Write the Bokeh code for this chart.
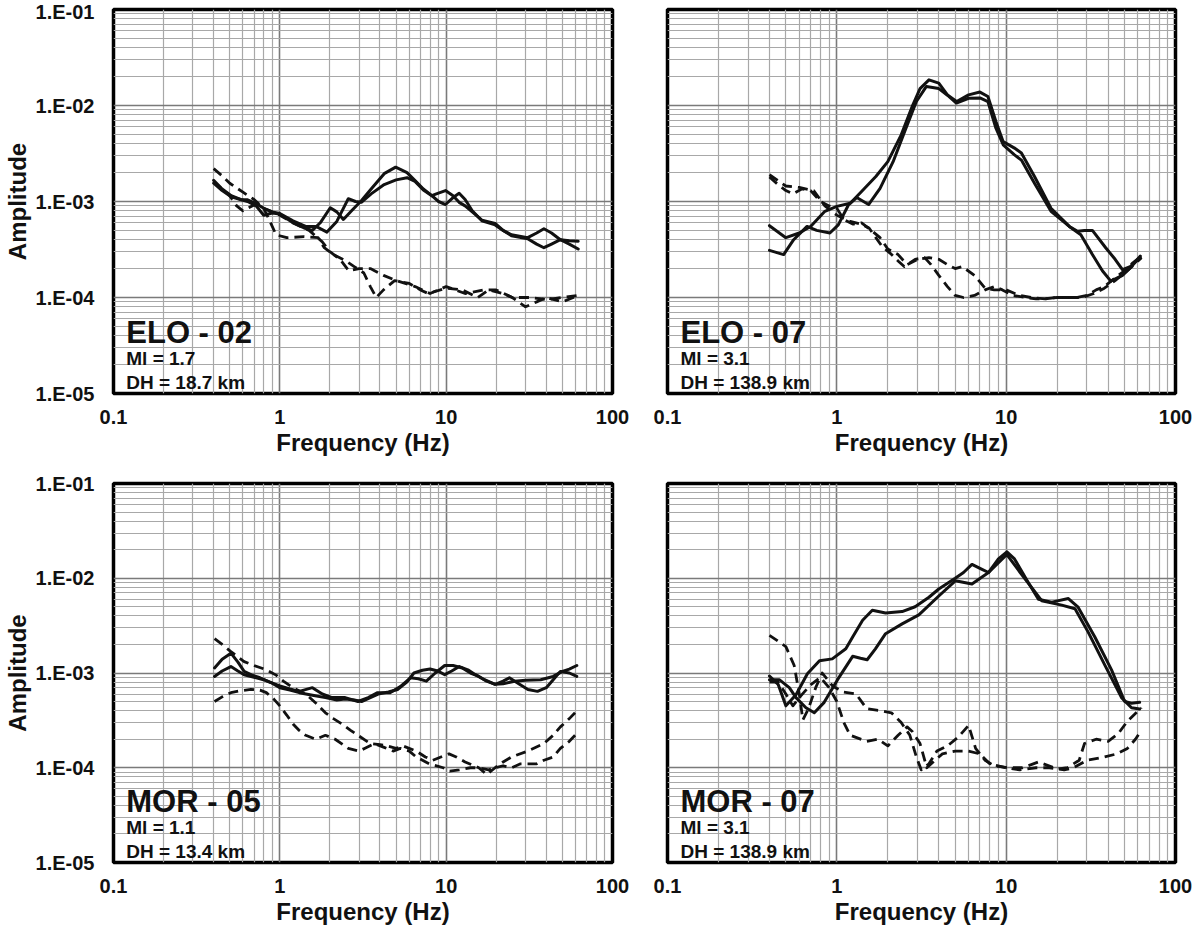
import math
from bokeh.plotting import figure
from bokeh.models import FixedTicker, CustomJSTickFormatter, Label, Range1d
from bokeh.layouts import row, column
from bokeh.embed import file_html
from bokeh.resources import INLINE

# ---------------- data ----------------
# ELO - 02
elo02_s1_f = [0.40, 0.45, 0.51, 0.58, 0.64, 0.72, 0.80, 0.90, 1.0, 1.2, 1.4, 1.57, 1.75, 2.01, 2.2, 2.41, 2.7, 3.09, 3.54, 4.24, 4.97, 5.82, 6.5, 7.29, 8.2, 9.0, 9.91, 11.0, 11.97, 13.0, 14.35, 16.4, 19.7, 22, 24.7, 30.9, 35, 38.7, 43, 48.6, 55, 62.2]
elo02_s1_a = [1.66e-3, 1.35e-3, 1.15e-3, 1.05e-3, 1.0e-3, 0.9e-3, 0.72e-3, 0.76e-3, 0.74e-3, 0.6e-3, 0.53e-3, 0.5e-3, 0.6e-3, 0.86e-3, 0.78e-3, 0.65e-3, 0.8e-3, 1.02e-3, 1.35e-3, 1.95e-3, 2.28e-3, 2.0e-3, 1.65e-3, 1.35e-3, 1.15e-3, 1.0e-3, 0.93e-3, 1.1e-3, 1.22e-3, 1.05e-3, 0.8e-3, 0.63e-3, 0.57e-3, 0.5e-3, 0.44e-3, 0.41e-3, 0.36e-3, 0.33e-3, 0.36e-3, 0.4e-3, 0.39e-3, 0.386e-3]
elo02_s2_f = [0.40, 0.45, 0.51, 0.58, 0.64, 0.72, 0.80, 0.90, 1.0, 1.2, 1.43, 1.65, 1.92, 2.2, 2.58, 2.85, 3.09, 3.54, 4.24, 5.0, 5.82, 6.5, 7.29, 8.2, 8.73, 9.91, 11.0, 11.97, 13.0, 14.35, 16.4, 19.7, 22, 24.7, 30.9, 35, 38.7, 43, 48.6, 55, 62.2]
elo02_s2_a = [1.55e-3, 1.3e-3, 1.12e-3, 1.05e-3, 1.04e-3, 0.95e-3, 0.85e-3, 0.78e-3, 0.75e-3, 0.63e-3, 0.55e-3, 0.55e-3, 0.48e-3, 0.62e-3, 1.07e-3, 1.0e-3, 0.98e-3, 1.2e-3, 1.5e-3, 1.68e-3, 1.77e-3, 1.62e-3, 1.32e-3, 1.15e-3, 1.2e-3, 1.3e-3, 1.15e-3, 0.98e-3, 0.9e-3, 0.78e-3, 0.64e-3, 0.59e-3, 0.5e-3, 0.45e-3, 0.42e-3, 0.47e-3, 0.52e-3, 0.47e-3, 0.4e-3, 0.36e-3, 0.32e-3]
elo02_d1_f = [0.40, 0.45, 0.5, 0.6, 0.7, 0.8, 0.88, 0.95, 1.1, 1.4, 1.7, 1.85, 2.1, 2.5, 2.8, 3.2, 3.5, 3.8, 4.2, 4.9, 6.0, 7.0, 7.8, 10, 12.5, 15.5, 18, 22, 25, 30, 35, 40, 50, 62]
elo02_d1_a = [2.2e-3, 1.85e-3, 1.55e-3, 1.25e-3, 1.05e-3, 0.85e-3, 0.6e-3, 0.45e-3, 0.42e-3, 0.43e-3, 0.42e-3, 0.33e-3, 0.28e-3, 0.24e-3, 0.21e-3, 0.18e-3, 0.13e-3, 0.1e-3, 0.12e-3, 0.15e-3, 0.14e-3, 0.12e-3, 0.11e-3, 0.125e-3, 0.12e-3, 0.1e-3, 0.12e-3, 0.11e-3, 0.1e-3, 0.08e-3, 0.09e-3, 0.1e-3, 0.09e-3, 0.105e-3]
elo02_d2_f = [0.40, 0.45, 0.5, 0.55, 0.6, 0.7, 0.8, 0.9, 1.0, 1.2, 1.5, 1.8, 2.0, 2.3, 2.6, 3.0, 3.5, 4.2, 5.0, 6.5, 8.0, 10, 13, 17, 20, 25, 32, 40, 50, 62]
elo02_d2_a = [1.6e-3, 1.35e-3, 1.15e-3, 0.9e-3, 0.8e-3, 0.92e-3, 0.85e-3, 0.78e-3, 0.72e-3, 0.6e-3, 0.5e-3, 0.38e-3, 0.3e-3, 0.25e-3, 0.19e-3, 0.2e-3, 0.2e-3, 0.17e-3, 0.15e-3, 0.13e-3, 0.11e-3, 0.13e-3, 0.11e-3, 0.12e-3, 0.12e-3, 0.1e-3, 0.1e-3, 0.095e-3, 0.1e-3, 0.105e-3]

# ELO - 07
elo07_s1_f = [0.40, 0.5, 0.6, 0.7, 0.85, 1.0, 1.2, 1.4, 1.7, 2.0, 2.4, 2.8, 3.1, 3.5, 4.0, 4.5, 5.1, 6.0, 7.0, 7.8, 8.7, 9.6, 11.2, 12.3, 14.7, 18.4, 23.6, 26.4, 29, 32.3, 38.7, 44, 48.6, 54, 62]
elo07_s1_a = [0.56e-3, 0.42e-3, 0.47e-3, 0.55e-3, 0.79e-3, 0.89e-3, 0.96e-3, 1.27e-3, 1.82e-3, 2.6e-3, 4.95e-3, 1.0e-2, 1.5e-2, 1.85e-2, 1.71e-2, 1.29e-2, 1.1e-2, 1.29e-2, 1.38e-2, 1.24e-2, 6.8e-3, 4.2e-3, 3.6e-3, 3.2e-3, 1.82e-3, 0.85e-3, 0.55e-3, 0.49e-3, 0.5e-3, 0.5e-3, 0.33e-3, 0.25e-3, 0.195e-3, 0.21e-3, 0.26e-3]
elo07_s2_f = [0.40, 0.485, 0.556, 0.667, 0.76, 0.91, 1.02, 1.17, 1.31, 1.54, 1.8, 2.15, 2.52, 2.95, 3.38, 4.0, 4.5, 5.08, 6.0, 7.0, 7.8, 8.7, 9.6, 11.2, 12.3, 14.7, 18.4, 23.6, 27.6, 32.3, 37, 41.5, 48.6, 55, 62]
elo07_s2_a = [0.31e-3, 0.28e-3, 0.4e-3, 0.55e-3, 0.5e-3, 0.47e-3, 0.57e-3, 0.92e-3, 1.1e-3, 0.93e-3, 1.37e-3, 2.6e-3, 5.4e-3, 1.1e-2, 1.58e-2, 1.5e-2, 1.28e-2, 1.06e-2, 1.19e-2, 1.2e-2, 1.1e-2, 5.8e-3, 3.9e-3, 3.06e-3, 2.7e-3, 1.55e-3, 0.79e-3, 0.55e-3, 0.45e-3, 0.28e-3, 0.19e-3, 0.148e-3, 0.17e-3, 0.21e-3, 0.27e-3]
elo07_d1_f = [0.40, 0.5, 0.6, 0.73, 0.85, 1.0, 1.2, 1.4, 1.55, 1.85, 2.06, 2.3, 2.5, 2.9, 3.3, 3.6, 4.0, 4.5, 5.0, 5.6, 6.5, 7.5, 8.5, 9.5, 11, 13, 15, 17, 20, 23, 26, 30, 34, 38, 44, 50, 56, 63]
elo07_d1_a = [1.9e-3, 1.45e-3, 1.4e-3, 1.3e-3, 0.9e-3, 0.72e-3, 0.62e-3, 0.58e-3, 0.53e-3, 0.34e-3, 0.29e-3, 0.24e-3, 0.21e-3, 0.25e-3, 0.26e-3, 0.22e-3, 0.17e-3, 0.13e-3, 0.105e-3, 0.1e-3, 0.105e-3, 0.12e-3, 0.13e-3, 0.12e-3, 0.105e-3, 0.1e-3, 0.097e-3, 0.097e-3, 0.1e-3, 0.1e-3, 0.1e-3, 0.105e-3, 0.12e-3, 0.13e-3, 0.16e-3, 0.19e-3, 0.23e-3, 0.27e-3]
elo07_d2_f = [0.40, 0.45, 0.5, 0.55, 0.62, 0.7, 0.8, 0.9, 1.0, 1.1, 1.25, 1.4, 1.6, 1.8, 2.0, 2.3, 2.6, 3.0, 3.5, 4.0, 4.5, 5.0, 5.5, 6.5, 7.5, 8.5, 10, 12, 14, 17, 20, 24, 28, 33, 38, 44, 50, 57, 63]
elo07_d2_a = [1.8e-3, 1.5e-3, 1.3e-3, 1.2e-3, 1.35e-3, 1.3e-3, 1.0e-3, 0.9e-3, 0.85e-3, 0.65e-3, 0.58e-3, 0.6e-3, 0.5e-3, 0.42e-3, 0.32e-3, 0.28e-3, 0.22e-3, 0.25e-3, 0.26e-3, 0.25e-3, 0.22e-3, 0.2e-3, 0.21e-3, 0.17e-3, 0.125e-3, 0.12e-3, 0.12e-3, 0.105e-3, 0.1e-3, 0.097e-3, 0.1e-3, 0.1e-3, 0.1e-3, 0.11e-3, 0.125e-3, 0.15e-3, 0.18e-3, 0.22e-3, 0.26e-3]

# MOR - 05
mor05_s1_f = [0.405, 0.45, 0.508, 0.56, 0.61, 0.68, 0.76, 0.87, 1.0, 1.15, 1.31, 1.57, 1.8, 2.06, 2.47, 2.95, 3.4, 3.87, 4.6, 5.3, 6.1, 6.8, 7.6, 8.6, 9.8, 11, 12.5, 14, 15.7, 17.5, 19.7, 22, 24, 27, 31, 35.4, 40, 44, 48.6, 55, 61]
mor05_s1_a = [1.13e-3, 1.4e-3, 1.62e-3, 1.3e-3, 1.04e-3, 0.95e-3, 0.89e-3, 0.8e-3, 0.73e-3, 0.68e-3, 0.64e-3, 0.7e-3, 0.6e-3, 0.55e-3, 0.55e-3, 0.5e-3, 0.55e-3, 0.62e-3, 0.62e-3, 0.72e-3, 0.89e-3, 0.87e-3, 0.82e-3, 1.0e-3, 1.2e-3, 1.2e-3, 1.13e-3, 1.0e-3, 0.92e-3, 0.82e-3, 0.76e-3, 0.82e-3, 0.89e-3, 0.78e-3, 0.67e-3, 0.64e-3, 0.7e-3, 0.85e-3, 1.04e-3, 1.0e-3, 0.92e-3]
mor05_s2_f = [0.405, 0.45, 0.508, 0.56, 0.61, 0.7, 0.8, 0.9, 1.0, 1.15, 1.31, 1.6, 1.88, 2.2, 2.47, 2.8, 3.1, 3.5, 3.9, 4.5, 5.1, 5.8, 6.4, 7.2, 8.0, 8.9, 9.8, 10.8, 12, 13.5, 15, 17, 19.7, 22, 25.8, 30, 37, 44, 50, 55, 61]
mor05_s2_a = [0.92e-3, 1.05e-3, 1.17e-3, 1.05e-3, 0.96e-3, 0.9e-3, 0.85e-3, 0.78e-3, 0.7e-3, 0.66e-3, 0.62e-3, 0.58e-3, 0.55e-3, 0.52e-3, 0.53e-3, 0.52e-3, 0.5e-3, 0.55e-3, 0.6e-3, 0.63e-3, 0.67e-3, 0.8e-3, 1.0e-3, 1.07e-3, 1.1e-3, 1.05e-3, 0.96e-3, 1.05e-3, 1.17e-3, 1.08e-3, 0.96e-3, 0.85e-3, 0.76e-3, 0.77e-3, 0.82e-3, 0.84e-3, 0.85e-3, 0.92e-3, 1.04e-3, 1.1e-3, 1.2e-3]
mor05_d1_f = [0.405, 0.45, 0.508, 0.61, 0.7, 0.83, 0.95, 1.05, 1.2, 1.43, 1.65, 1.88, 2.1, 2.36, 2.65, 2.95, 3.5, 4.0, 4.4, 5.0, 5.5, 6.6, 7.5, 8.3, 9.3, 10.4, 11.5, 13, 15.7, 17.5, 19.7, 22, 24.7, 31, 38.7, 44, 48.6, 55, 62]
mor05_d1_a = [2.3e-3, 2.0e-3, 1.68e-3, 1.32e-3, 1.2e-3, 1.08e-3, 0.95e-3, 0.82e-3, 0.7e-3, 0.6e-3, 0.48e-3, 0.38e-3, 0.33e-3, 0.29e-3, 0.25e-3, 0.22e-3, 0.18e-3, 0.175e-3, 0.17e-3, 0.16e-3, 0.17e-3, 0.15e-3, 0.13e-3, 0.12e-3, 0.13e-3, 0.14e-3, 0.13e-3, 0.115e-3, 0.1e-3, 0.085e-3, 0.1e-3, 0.115e-3, 0.13e-3, 0.15e-3, 0.18e-3, 0.22e-3, 0.27e-3, 0.33e-3, 0.41e-3]
mor05_d2_f = [0.405, 0.45, 0.508, 0.58, 0.67, 0.76, 0.83, 0.92, 1.0, 1.1, 1.2, 1.3, 1.43, 1.64, 1.88, 2.15, 2.58, 3.0, 3.23, 3.7, 4.2, 4.8, 5.3, 6.0, 6.6, 7.9, 9.6, 10.5, 12, 14, 15.7, 18, 19.7, 22, 24.7, 28, 31, 35, 38.7, 44, 48.6, 55, 61]
mor05_d2_a = [0.5e-3, 0.56e-3, 0.62e-3, 0.65e-3, 0.67e-3, 0.66e-3, 0.62e-3, 0.53e-3, 0.45e-3, 0.36e-3, 0.29e-3, 0.25e-3, 0.22e-3, 0.2e-3, 0.22e-3, 0.2e-3, 0.16e-3, 0.15e-3, 0.16e-3, 0.18e-3, 0.165e-3, 0.15e-3, 0.16e-3, 0.15e-3, 0.13e-3, 0.11e-3, 0.1e-3, 0.092e-3, 0.095e-3, 0.1e-3, 0.1e-3, 0.095e-3, 0.1e-3, 0.105e-3, 0.1e-3, 0.11e-3, 0.11e-3, 0.11e-3, 0.12e-3, 0.13e-3, 0.16e-3, 0.19e-3, 0.23e-3]

# MOR - 07
mor07_s1_f = [0.40, 0.45, 0.5, 0.574, 0.67, 0.79, 0.94, 1.13, 1.24, 1.42, 1.62, 1.94, 2.43, 2.9, 3.5, 4.0, 5.0, 5.6, 6.28, 7.2, 7.87, 9.0, 10.1, 11.2, 13.5, 15.5, 18.6, 23.3, 26.6, 33.4, 41.9, 50.1, 55, 61.4]
mor07_s1_a = [0.93e-3, 0.76e-3, 0.45e-3, 0.59e-3, 0.98e-3, 1.35e-3, 1.41e-3, 1.8e-3, 2.4e-3, 3.6e-3, 4.6e-3, 4.3e-3, 4.45e-3, 5.0e-3, 6.3e-3, 7.7e-3, 1.0e-2, 1.15e-2, 1.4e-2, 1.24e-2, 1.15e-2, 1.6e-2, 1.9e-2, 1.6e-2, 9.0e-3, 6.0e-3, 5.6e-3, 6.1e-3, 4.95e-3, 2.4e-3, 1.08e-3, 0.5e-3, 0.48e-3, 0.49e-3]
mor07_s2_f = [0.40, 0.457, 0.524, 0.574, 0.657, 0.736, 0.842, 1.01, 1.24, 1.38, 1.51, 1.69, 1.94, 2.43, 3.05, 4.0, 5.01, 6.28, 7.87, 10.1, 12.1, 16.2, 21.3, 25.5, 30.5, 38.2, 48, 55, 61.4]
mor07_s2_a = [0.85e-3, 0.85e-3, 0.7e-3, 0.55e-3, 0.43e-3, 0.38e-3, 0.49e-3, 0.85e-3, 1.5e-3, 1.43e-3, 1.38e-3, 1.8e-3, 2.6e-3, 3.3e-3, 4.1e-3, 6.5e-3, 9.4e-3, 8.7e-3, 1.15e-2, 1.78e-2, 1.15e-2, 5.8e-3, 5.2e-3, 4.76e-3, 2.7e-3, 1.22e-3, 0.55e-3, 0.43e-3, 0.417e-3]
mor07_d1_f = [0.40, 0.5, 0.56, 0.6, 0.63, 0.68, 0.75, 0.82, 0.95, 1.1, 1.3, 1.5, 1.8, 2.1, 2.4, 2.7, 2.95, 3.15, 3.5, 3.9, 4.5, 5.2, 6.0, 6.6, 7.5, 8.5, 10.3, 12.5, 15.5, 20, 23, 27, 29, 34, 40, 46, 52, 63]
mor07_d1_a = [2.5e-3, 1.9e-3, 1.2e-3, 0.6e-3, 0.32e-3, 0.42e-3, 0.7e-3, 1.0e-3, 0.72e-3, 0.63e-3, 0.6e-3, 0.42e-3, 0.4e-3, 0.38e-3, 0.3e-3, 0.22e-3, 0.13e-3, 0.095e-3, 0.11e-3, 0.15e-3, 0.17e-3, 0.21e-3, 0.28e-3, 0.16e-3, 0.12e-3, 0.105e-3, 0.1e-3, 0.1e-3, 0.115e-3, 0.097e-3, 0.1e-3, 0.12e-3, 0.18e-3, 0.2e-3, 0.19e-3, 0.23e-3, 0.31e-3, 0.43e-3]
mor07_d2_f = [0.40, 0.45, 0.5, 0.55, 0.6, 0.7, 0.8, 0.9, 1.0, 1.1, 1.2, 1.5, 1.75, 2.0, 2.3, 2.6, 2.8, 3.1, 3.4, 3.8, 4.2, 5.0, 6.0, 7.0, 8.0, 10, 12, 15, 18, 22, 25, 30, 38, 45, 52, 58, 63]
mor07_d2_a = [0.8e-3, 0.8e-3, 0.6e-3, 0.45e-3, 0.55e-3, 0.75e-3, 0.9e-3, 0.7e-3, 0.5e-3, 0.3e-3, 0.22e-3, 0.19e-3, 0.2e-3, 0.17e-3, 0.22e-3, 0.27e-3, 0.24e-3, 0.18e-3, 0.1e-3, 0.12e-3, 0.14e-3, 0.15e-3, 0.15e-3, 0.14e-3, 0.11e-3, 0.1e-3, 0.095e-3, 0.1e-3, 0.1e-3, 0.095e-3, 0.1e-3, 0.12e-3, 0.13e-3, 0.14e-3, 0.16e-3, 0.2e-3, 0.25e-3]

station_names = ["ELO - 02", "ELO - 07", "MOR - 05", "MOR - 07"]
ml_values = ["1.7", "3.1", "1.1", "3.1"]
dh_values = ["18.7", "138.9", "13.4", "138.9"]

x_major_ticks = [0.1, 1, 10, 100]
y_major_ticks = [1e-5, 1e-4, 1e-3, 1e-2, 1e-1]
x_axis_title = "Frequency (Hz)"
y_axis_title = "Amplitude"

# ---------------- styling ----------------
FONT = "Liberation Sans"
INK = "#111111"
FRAME_W = 508

x_minor = [m * 10 ** k for k in (-1, 0, 1) for m in range(2, 10)]
y_minor = [m * 10.0 ** k for k in (-5, -4, -3, -2) for m in range(2, 10)]

X_FMT = "return tick < 1 ? tick.toFixed(1) : tick.toFixed(0);"
Y_FMT = ("const e = Math.round(Math.log10(tick));"
         "return '1.E' + (e < 0 ? '-' : '+') + String(Math.abs(e)).padStart(2, '0');")


def make_panel(curves, name, ml, dh, left_col, top_row):
    bl = 104 if left_col else 35
    br = 20 if left_col else 17
    if top_row:
        bt, frame_h, bb = 9, 384, 70
    else:
        bt, frame_h, bb = 20, 379, 66
    p = figure(width=bl + FRAME_W + br, height=bt + frame_h + bb,
               x_axis_type="log", y_axis_type="log",
               x_range=Range1d(0.1, 100), y_range=Range1d(1e-5, 1e-1),
               output_backend="svg", toolbar_location=None,
               min_border_left=bl, min_border_right=br,
               min_border_top=bt, min_border_bottom=bb,
               background_fill_color="white", border_fill_color="white")

    xt = FixedTicker(ticks=x_major_ticks, minor_ticks=x_minor)
    yt = FixedTicker(ticks=y_major_ticks, minor_ticks=y_minor)
    p.xaxis.ticker = xt
    p.yaxis.ticker = yt
    p.xgrid.ticker = xt
    p.ygrid.ticker = yt

    for g in (p.xgrid, p.ygrid):
        g.grid_line_color = "#7a7a7a"
        g.grid_line_width = 1.6
        g.minor_grid_line_color = "#a8a8a8"
        g.minor_grid_line_width = 1.2

    p.outline_line_color = "black"
    p.outline_line_width = 3.5

    for ax in (p.xaxis, p.yaxis):
        ax.axis_line_color = None
        ax.major_tick_line_color = None
        ax.minor_tick_line_color = None
        ax.major_tick_out = 0
        ax.major_tick_in = 0
        ax.major_label_text_font = FONT
        ax.major_label_text_font_style = "bold"
        ax.major_label_text_font_size = "20px"
        ax.major_label_text_color = INK
        ax.axis_label_text_font = FONT
        ax.axis_label_text_font_style = "bold"
        ax.axis_label_text_font_size = "24px"
        ax.axis_label_text_color = INK

    p.xaxis.formatter = CustomJSTickFormatter(code=X_FMT)
    p.yaxis.formatter = CustomJSTickFormatter(code=Y_FMT)
    p.xaxis.axis_label = x_axis_title
    p.xaxis.major_label_standoff = 12
    p.xaxis.axis_label_standoff = 2

    if left_col:
        p.yaxis.axis_label = y_axis_title
        p.yaxis.major_label_standoff = 15
        p.yaxis.axis_label_standoff = 2
    else:
        p.yaxis.visible = False

    for f, a, dashed in curves:
        if dashed:
            p.line(f, a, line_color=INK, line_width=2.8, line_dash="10 6",
                   line_join="round")
        else:
            p.line(f, a, line_color=INK, line_width=3.0, line_join="round",
                   line_cap="round")

    ppd_x = FRAME_W / 3.0
    ppd_y = frame_h / 4.0

    def at(dx, dy):
        return 0.1 * 10 ** (dx / ppd_x), 1e-5 * 10 ** (dy / ppd_y)

    for text, dy, size in ((name, 61, "31px"),
                           ("Ml = " + ml, 35, "19px"),
                           ("DH = " + dh + " km", 11, "19px")):
        x, y = at(13, dy)
        p.add_layout(Label(x=x, y=y, text=text, text_font=FONT,
                           text_font_style="bold", text_font_size=size,
                           text_color=INK, text_align="left",
                           text_baseline="alphabetic"))
    return p


panel_curves = [
    [(elo02_d1_f, elo02_d1_a, True), (elo02_d2_f, elo02_d2_a, True),
     (elo02_s1_f, elo02_s1_a, False), (elo02_s2_f, elo02_s2_a, False)],
    [(elo07_d1_f, elo07_d1_a, True), (elo07_d2_f, elo07_d2_a, True),
     (elo07_s1_f, elo07_s1_a, False), (elo07_s2_f, elo07_s2_a, False)],
    [(mor05_d1_f, mor05_d1_a, True), (mor05_d2_f, mor05_d2_a, True),
     (mor05_s1_f, mor05_s1_a, False), (mor05_s2_f, mor05_s2_a, False)],
    [(mor07_d1_f, mor07_d1_a, True), (mor07_d2_f, mor07_d2_a, True),
     (mor07_s1_f, mor07_s1_a, False), (mor07_s2_f, mor07_s2_a, False)],
]

panels = []
for i in range(4):
    panels.append(make_panel(panel_curves[i], station_names[i], ml_values[i],
                             dh_values[i], left_col=(i % 2 == 0), top_row=(i < 2)))

layout = column(row(panels[0], panels[1]), row(panels[2], panels[3]))

with open("out.html", "w") as fh:
    fh.write(file_html(layout, INLINE))
